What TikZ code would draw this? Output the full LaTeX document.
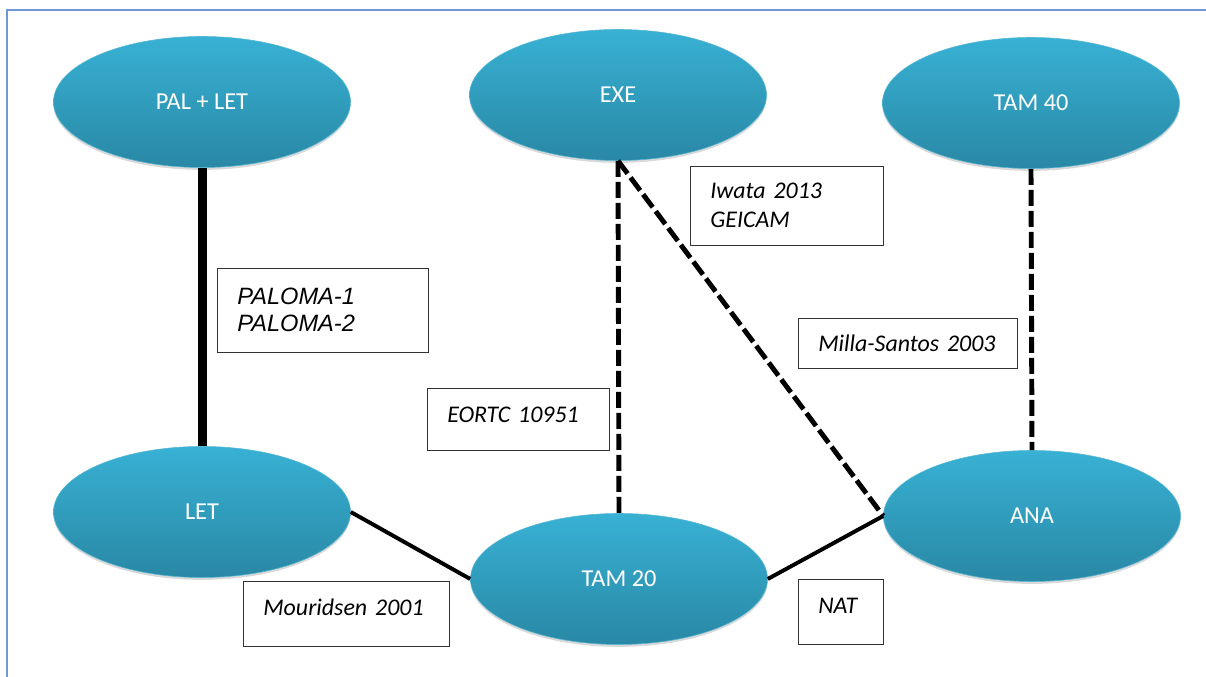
\documentclass[tikz,border=0pt]{standalone}
\usepackage{fontspec}
\setmainfont{Carlito}
\newfontfamily\arialfont{Liberation Sans}
\usetikzlibrary{shapes.geometric}
\usetikzlibrary{shadows}
\usetikzlibrary{positioning}

\definecolor{ovaltop}{RGB}{56,177,212}
\definecolor{ovalbottom}{RGB}{41,136,165}
\definecolor{ovalrim}{RGB}{84,182,212}
\definecolor{framecol}{RGB}{112,152,212}

\tikzset{
  drug/.style={ellipse, minimum width=7.425cm, minimum height=3.275cm, inner sep=0pt,
    top color=ovaltop, bottom color=ovalbottom, draw=ovalrim, thin, text=white,
    font=\fontsize{17.3}{21}\selectfont,
    drop shadow={opacity=0.3, shadow xshift=0pt, shadow yshift=-0.06cm}},
  trial/.style={draw=black!80, thin, fill=white, align=left, inner xsep=0.5cm, inner ysep=0pt,
    font=\fontsize{17}{20.6}\selectfont\itshape, anchor=north west},
  direct/.style={line width=2.8pt},
  indirect/.style={line width=3.5pt, dash pattern=on 0.4cm off 0.125cm},
}

\begin{document}
\begin{tikzpicture}
\useasboundingbox (0,0) rectangle (30.15,16.925);
\draw[framecol, line width=1.2pt] (0.175,0) -- (0.175,16.675) -- (30.15,16.675);

\node[drug] (palet) at (5.05,14.375) {PAL + LET};
\node[drug] (exe) at (15.45,14.55) {EXE};
\node[drug] (tamforty) at (25.775,14.35) {TAM 40};
\node[drug] (let) at (5.05,4.125) {LET};
\node[drug] (tamtwenty) at (15.475,2.45) {TAM 20};
\node[drug] (ana) at (25.8,4.025) {ANA};

\draw[line width=6.4pt] (palet.south) -- (let.north);
\draw[indirect] (exe.south) -- (tamtwenty.north);
\draw[indirect] (exe.south) -- (ana.west);
\draw[indirect] (tamforty.south) -- (ana.north);
\draw[direct] (let.east) -- (tamtwenty.west);
\draw[direct] (tamtwenty.east) -- (ana.west);

\node[trial, text width=4.275cm, minimum height=2.1cm, font=\arialfont\fontsize{16.8}{19.2}\selectfont\itshape] (paloma) at (5.425,10.225) {PALOMA-1\\PALOMA-2};
\node[trial, text width=3.55cm, minimum height=1.55cm, text depth=0.22cm] (eortc) at (10.675,7.225) {\mbox{EORTC 10951}};
\node[trial, text width=3.825cm, minimum height=1.975cm] (iwata) at (17.25,12.775) {\mbox{Iwata 2013}\\GEICAM};
\node[trial, text width=4.475cm, minimum height=1.25cm] (milla) at (19.95,8.975) {\mbox{Milla-Santos 2003}};
\node[trial, text width=4.15cm, minimum height=1.625cm, text depth=0.35cm] (mouridsen) at (6.075,2.4) {\mbox{Mouridsen 2001}};
\node[trial, text width=1.125cm, minimum height=1.625cm, text depth=0.3cm] (nat) at (19.95,2.45) {NAT};

\end{tikzpicture}
\end{document}
